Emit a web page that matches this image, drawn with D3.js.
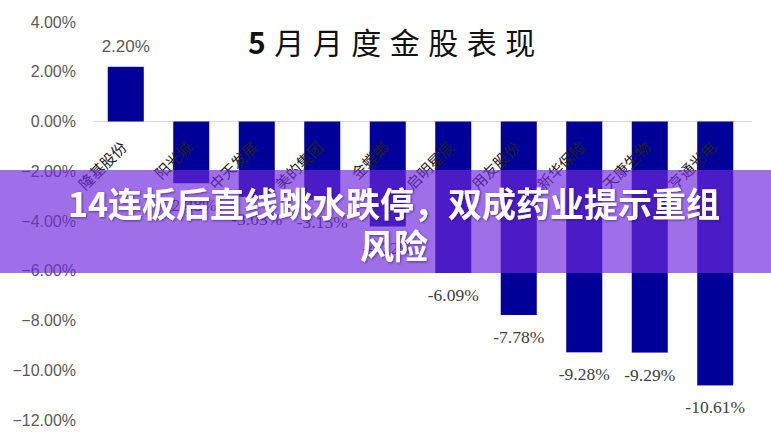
<!DOCTYPE html>
<html>
<head>
<meta charset="utf-8">
<script src="https://cdn.jsdelivr.net/npm/d3@7/dist/d3.min.js"></script>
<style>
body{margin:0;background:#fff;}
svg{display:block;}
</style>
</head>
<body>
<script>
var width=771;
var height=444;
var padding={top:22,right:23,bottom:24,left:93};

var categories=["隆基股份","阳光城","中天发展","美的集团","金螳螂","启明星辰","用友股份","新华保险","天康生物","亨通光电"];
var returns=[2.20,-2.48,-3.03,-3.15,-4.22,-6.09,-7.78,-9.28,-9.29,-10.61];
var yTicks=[-12,-10,-8,-6,-4,-2,0,2,4];
var title="月月度金股表现";
var bannerLines=["14连板后直线跳水跌停，双成药业提示重组","风险"];

var svg=d3.select("body").append("svg").attr("width",width).attr("height",height);

var defs=svg.append("defs");
var shadow=defs.append("filter").attr("id","shadow").attr("x","-10%").attr("y","-30%").attr("width","120%").attr("height","160%");
shadow.append("feDropShadow").attr("dx",1).attr("dy",1).attr("stdDeviation",1.2).attr("flood-color","#2a0a60").attr("flood-opacity",0.6);

var x=d3.scaleBand().domain(categories)
    .range([padding.left,width-padding.right])
    .paddingInner(0.45).paddingOuter(0.225);
var y=d3.scaleLinear().domain([-12,4]).range([height-padding.bottom,padding.top]);

// y axis
var yAxis=d3.axisLeft(y).tickValues(yTicks).tickSize(0).tickPadding(17)
    .tickFormat(function(d){return d3.format(".2f")(d)+"%";});
var gy=svg.append("g").attr("transform","translate("+padding.left+",0)").call(yAxis);
gy.select(".domain").remove();
gy.selectAll("text").attr("fill","#595959").attr("font-size","16px")
    .attr("font-family","'Liberation Sans', Arial, sans-serif");

// zero line
svg.append("line")
    .attr("x1",padding.left).attr("x2",width-padding.right+4)
    .attr("y1",y(0)).attr("y2",y(0))
    .attr("stroke","#d9d9d9").attr("stroke-width",1);

// bars
svg.selectAll(".bar").data(returns).enter().append("rect")
    .attr("class","bar")
    .attr("fill","#000099")
    .attr("x",function(d,i){return x(categories[i]);})
    .attr("y",function(d){return d>=0?y(d):y(0);})
    .attr("width",x.bandwidth())
    .attr("height",function(d){return Math.abs(y(d)-y(0));});

// value labels
svg.selectAll(".val").data(returns).enter().append("text")
    .attr("class","val")
    .attr("text-anchor","middle")
    .attr("x",function(d,i){return x(categories[i])+x.bandwidth()/2;})
    .attr("y",function(d){return d>=0?y(d)-15:y(d)+28;})
    .attr("fill",function(d){return d>=0?"#595959":"#404040";})
    .attr("font-size",function(d){return d>=0?"17px":"17.5px";})
    .attr("font-family",function(d){return d>=0?"'Liberation Sans', Arial, sans-serif":"'Liberation Serif', 'Times New Roman', serif";})
    .text(function(d){return d.toFixed(2)+"%";});

// category labels, rotated
svg.selectAll(".cat").data(categories).enter().append("text")
    .attr("class","cat")
    .attr("text-anchor","end")
    .attr("font-size","15px")
    .attr("font-family","'Noto Sans CJK SC', sans-serif")
    .attr("font-weight",400)
    .attr("fill","#222")
    .attr("transform",function(d){
        return "translate("+(x(d)+x.bandwidth()/2+2)+","+(y(0)+27)+") rotate(-45)";
    })
    .text(function(d){return d;});

// title
var t=svg.append("text")
    .attr("x",248).attr("y",54)
    .attr("font-family","'Noto Sans CJK SC', sans-serif")
    .attr("font-size","30px")
    .attr("fill","#111")
    .attr("letter-spacing","8.5px");
t.append("tspan").attr("font-weight",700).text("5");
t.append("tspan").attr("font-weight",400).text(title);

// banner overlay
svg.append("rect")
    .attr("x",0).attr("y",170).attr("width",width).attr("height",103)
    .attr("fill","rgb(112,40,221)").attr("fill-opacity",0.67);

svg.selectAll(".banner").data(bannerLines).enter().append("text")
    .attr("class","banner")
    .attr("text-anchor","middle")
    .attr("x",394)
    .attr("y",function(d,i){return 217+i*42;})
    .attr("font-family","'Noto Sans CJK SC', sans-serif")
    .attr("font-weight",700)
    .attr("font-size","34px")
    .attr("fill","#fff")
    .attr("filter","url(#shadow)")
    .text(function(d){return d;});
</script>
</body>
</html>
